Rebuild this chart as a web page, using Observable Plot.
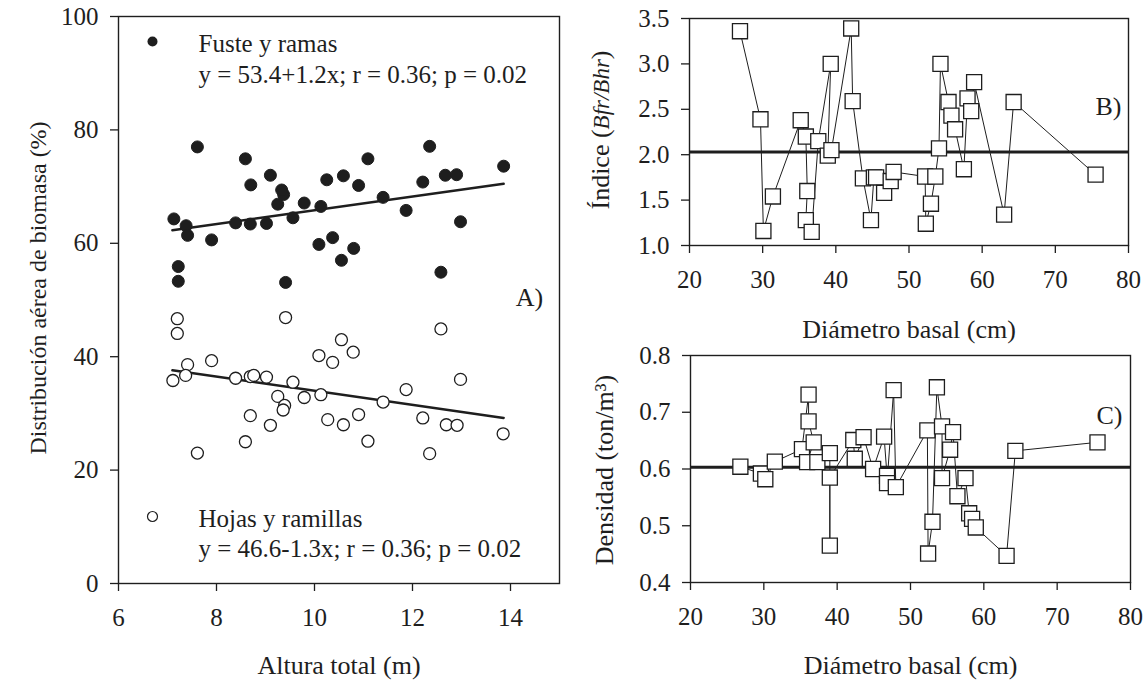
<!DOCTYPE html>
<html><head><meta charset="utf-8">
<script src="https://cdn.jsdelivr.net/npm/d3@7"></script>
<script src="https://cdn.jsdelivr.net/npm/@observablehq/plot@0.6"></script>
<style>
body{margin:0;background:#fff;}
#wrap{position:relative;width:1148px;height:681px;overflow:hidden;background:#fff;}
#wrap > svg{position:absolute;}
</style></head><body><div id="wrap"></div>
<script>
// ---------- Panel A: biomass distribution vs total height ----------
const fusteX = [7.13,7.38,7.41,7.61,7.90,7.22,7.22,8.39,8.59,8.70,8.69,9.02,9.10,9.25,9.37,9.33,9.56,9.41,9.79,10.13,10.09,10.25,10.37,10.59,10.55,10.80,10.90,11.09,11.40,11.87,12.21,12.35,12.58,12.67,12.90,12.98,13.86];
const fusteY = [64.3,63.1,61.4,77.0,60.6,55.9,53.3,63.6,74.9,70.3,63.4,63.5,72.0,66.9,68.6,69.4,64.5,53.1,67.1,66.5,59.8,71.2,61.0,71.9,57.0,59.1,70.2,74.9,68.1,65.8,70.8,77.1,54.9,72.0,72.1,63.8,73.6];
const hojasX = [7.20,7.20,7.41,7.37,7.11,7.90,7.61,8.39,8.69,8.76,9.02,8.69,8.59,9.10,9.41,9.25,9.39,9.36,9.56,9.79,10.13,10.09,10.37,10.55,10.79,10.27,10.59,10.90,11.09,11.40,11.87,12.21,12.35,12.58,12.69,12.91,12.98,13.85];
const hojasY = [46.7,44.1,38.6,36.7,35.8,39.3,23.0,36.2,36.5,36.7,36.4,29.6,25.0,27.9,46.9,33.0,31.4,30.6,35.5,32.8,33.3,40.2,39.0,43.0,40.8,28.9,28.0,29.8,25.1,32.0,34.2,29.2,22.9,44.9,28.0,27.9,36.0,26.4];
const fusteFitX = [7.1, 13.86], fusteFitY = [62.3, 70.5];
const hojasFitX = [7.1, 13.86], hojasFitY = [37.6, 29.2];
const ticksAX = [6, 8, 10, 12, 14];
const ticksAY = [0, 20, 40, 60, 80, 100];
const labelA1 = "Fuste y ramas", eqA1 = "y = 53.4+1.2x; r = 0.36; p = 0.02";
const labelA2 = "Hojas y ramillas", eqA2 = "y = 46.6-1.3x; r = 0.36; p = 0.02";
const titleAX = "Altura total (m)", titleAY = "Distribución aérea de biomasa (%)";

// ---------- Panel B: index Bfr/Bhr vs basal diameter ----------
const indDiam = [26.9,29.7,30.1,31.4,35.2,35.9,36.1,35.9,36.7,37.6,39.3,38.9,39.4,42.1,42.3,43.7,44.8,45.2,45.5,46.6,47.5,47.9,52.2,52.3,53.0,53.6,54.1,54.3,55.4,55.8,56.3,57.5,58.0,58.5,58.9,63.0,64.3,75.5];
const indVal  = [3.36,2.39,1.16,1.54,2.38,2.20,1.60,1.28,1.15,2.15,3.00,1.99,2.05,3.39,2.59,1.74,1.28,1.75,1.75,1.58,1.71,1.81,1.76,1.24,1.46,1.76,2.07,3.00,2.58,2.43,2.28,1.84,2.62,2.48,2.80,1.34,2.58,1.78];
const indMean = [2.03];
const ticksDiam = [20, 30, 40, 50, 60, 70, 80];
const ticksB = [1.0, 1.5, 2.0, 2.5, 3.0, 3.5];
const titleBY = "Índice (Bfr/Bhr)", titleDiam = "Diámetro basal (cm)";

// ---------- Panel C: density vs basal diameter ----------
const denDiam = [26.8,29.6,30.2,31.5,35.2,36.1,36.1,36.8,35.9,37.3,39.0,39.0,39.0,42.2,42.4,43.6,44.9,46.4,46.8,46.8,47.7,48.0,52.3,52.4,53.0,53.6,54.3,54.3,55.4,55.8,56.4,57.5,58.0,58.4,58.9,63.1,64.3,75.5];
const denVal  = [0.604,0.592,0.582,0.613,0.635,0.731,0.684,0.647,0.612,0.612,0.628,0.465,0.585,0.651,0.618,0.656,0.600,0.657,0.588,0.575,0.739,0.568,0.668,0.451,0.507,0.744,0.675,0.584,0.634,0.665,0.552,0.584,0.522,0.512,0.497,0.447,0.632,0.647];
const denMean = [0.603];
const ticksC = [0.4, 0.5, 0.6, 0.7, 0.8];
const titleCY = "Densidad (ton/m³)";

const fuste = fusteX.map((x, i) => ({x, y: fusteY[i]}));
const hojas = hojasX.map((x, i) => ({x, y: hojasY[i]}));
const fusteFit = fusteFitX.map((x, i) => ({x, y: fusteFitY[i]}));
const hojasFit = hojasFitX.map((x, i) => ({x, y: hojasFitY[i]}));
const indice = indDiam.map((x, i) => ({x, y: indVal[i]}));
const dens = denDiam.map((x, i) => ({x, y: denVal[i]}));

const INK = "#1e1e1e";
const baseStyle = {fontFamily: "'Liberation Serif', 'Times New Roman', serif", fontSize: "25px", color: INK, background: "transparent", overflow: "visible"};
const wrap = document.getElementById("wrap");
function place(svg, left, top) { svg.style.left = left + "px"; svg.style.top = top + "px"; wrap.appendChild(svg); return svg; }

// Panel A
const pA = Plot.plot({
  width: 580, height: 681,
  marginLeft: 118, marginRight: 21, marginTop: 16, marginBottom: 98,
  style: baseStyle,
  x: {domain: [6, 15]},
  y: {domain: [0, 100]},
  marks: [
    Plot.axisX({ticks: ticksAX, tickSize: 8, tickPadding: 17, label: null, strokeWidth: 1.3}),
    Plot.axisY({ticks: ticksAY, tickSize: 8, tickPadding: 12, label: null, strokeWidth: 1.3}),
    Plot.frame({stroke: INK, strokeWidth: 1.4}),
    Plot.line(fusteFit, {x: "x", y: "y", stroke: INK, strokeWidth: 2.5}),
    Plot.line(hojasFit, {x: "x", y: "y", stroke: INK, strokeWidth: 2.5}),
    Plot.dot(hojas, {x: "x", y: "y", r: 6, fill: "white", stroke: INK, strokeWidth: 1.3}),
    Plot.dot(fuste, {x: "x", y: "y", r: 6, fill: INK, stroke: INK, strokeWidth: 1}),
    // legend
    Plot.dot([0], {frameAnchor: "top-left", dx: 34, dy: 25, r: 5, fill: INK}),
    Plot.text([labelA1], {frameAnchor: "top-left", dx: 80, dy: 27, textAnchor: "start", lineAnchor: "middle", fill: INK}),
    Plot.text([eqA1], {frameAnchor: "top-left", dx: 80, dy: 58, textAnchor: "start", lineAnchor: "middle", fill: INK}),
    Plot.dot([0], {frameAnchor: "top-left", dx: 34, dy: 500, r: 5, fill: "white", stroke: INK, strokeWidth: 1.2}),
    Plot.text([labelA2], {frameAnchor: "top-left", dx: 80, dy: 502, textAnchor: "start", lineAnchor: "middle", fill: INK}),
    Plot.text([eqA2], {frameAnchor: "top-left", dx: 80, dy: 532, textAnchor: "start", lineAnchor: "middle", fill: INK}),
    Plot.text(["A)"], {frameAnchor: "top-left", dx: 411, dy: 281, textAnchor: "middle", lineAnchor: "middle", fill: INK, fontSize: 26}),
    // titles
    Plot.text([titleAX], {frameAnchor: "bottom", dy: 82, textAnchor: "middle", lineAnchor: "middle", fill: INK, fontSize: 26}),
    Plot.text([titleAY], {frameAnchor: "left", dx: -80, dy: -12, rotate: -90, textAnchor: "middle", lineAnchor: "middle", fill: INK, fontSize: 24})
  ]
});
place(pA, 0, 0);

// Panel B
const pB = Plot.plot({
  width: 568, height: 340,
  marginLeft: 109, marginRight: 20, marginTop: 18, marginBottom: 95,
  style: baseStyle,
  x: {domain: [20, 80]},
  y: {domain: [1, 3.5]},
  marks: [
    Plot.axisX({ticks: ticksDiam, tickSize: 8, tickPadding: 17, label: null, strokeWidth: 1.3}),
    Plot.axisY({ticks: ticksB, tickSize: 8, tickPadding: 12, tickFormat: d3.format(".1f"), label: null, strokeWidth: 1.3}),
    Plot.frame({stroke: INK, strokeWidth: 1.4}),
    Plot.ruleY(indMean, {stroke: INK, strokeWidth: 3}),
    Plot.line(indice, {x: "x", y: "y", stroke: INK, strokeWidth: 1}),
    Plot.dot(indice, {x: "x", y: "y", symbol: "square", r: 8.5, fill: "white", stroke: INK, strokeWidth: 1.3}),
    Plot.text(["B)"], {frameAnchor: "top-left", dx: 419, dy: 88, textAnchor: "middle", lineAnchor: "middle", fill: INK, fontSize: 26}),
    Plot.text([titleDiam], {frameAnchor: "bottom", dy: 84, textAnchor: "middle", lineAnchor: "middle", fill: INK, fontSize: 26}),
    Plot.text([titleBY], {frameAnchor: "left", dx: -89, dy: -2, rotate: -90, textAnchor: "middle", lineAnchor: "middle", fill: INK, fontSize: 26})
  ]
});
place(pB, 580, 0);
d3.select(pB).selectAll("text").each(function() {
  if (this.textContent === titleBY) {
    const t = d3.select(this);
    t.text(null);
    t.append("tspan").text("Índice (");
    t.append("tspan").attr("font-style", "italic").attr("font-size", 23).text("Bfr/Bhr");
    t.append("tspan").text(")");
  }
});

// Panel C
const pC = Plot.plot({
  width: 568, height: 341,
  marginLeft: 110, marginRight: 18, marginTop: 15, marginBottom: 99,
  style: baseStyle,
  x: {domain: [20, 80]},
  y: {domain: [0.4, 0.8]},
  marks: [
    Plot.axisX({ticks: ticksDiam, tickSize: 8, tickPadding: 17, label: null, strokeWidth: 1.3}),
    Plot.axisY({ticks: ticksC, tickSize: 8, tickPadding: 12, tickFormat: d3.format(".1f"), label: null, strokeWidth: 1.3}),
    Plot.frame({stroke: INK, strokeWidth: 1.4}),
    Plot.ruleY(denMean, {stroke: INK, strokeWidth: 3}),
    Plot.line(dens, {x: "x", y: "y", stroke: INK, strokeWidth: 1}),
    Plot.dot(dens, {x: "x", y: "y", symbol: "square", r: 8.5, fill: "white", stroke: INK, strokeWidth: 1.3}),
    Plot.text(["C)"], {frameAnchor: "top-left", dx: 419, dy: 60, textAnchor: "middle", lineAnchor: "middle", fill: INK, fontSize: 26}),
    Plot.text([titleDiam], {frameAnchor: "bottom", dy: 83, textAnchor: "middle", lineAnchor: "middle", fill: INK, fontSize: 26}),
    Plot.text([titleCY], {frameAnchor: "left", dx: -86, dy: 1, rotate: -90, textAnchor: "middle", lineAnchor: "middle", fill: INK, fontSize: 26})
  ]
});
place(pC, 580, 340);
</script></body></html>
